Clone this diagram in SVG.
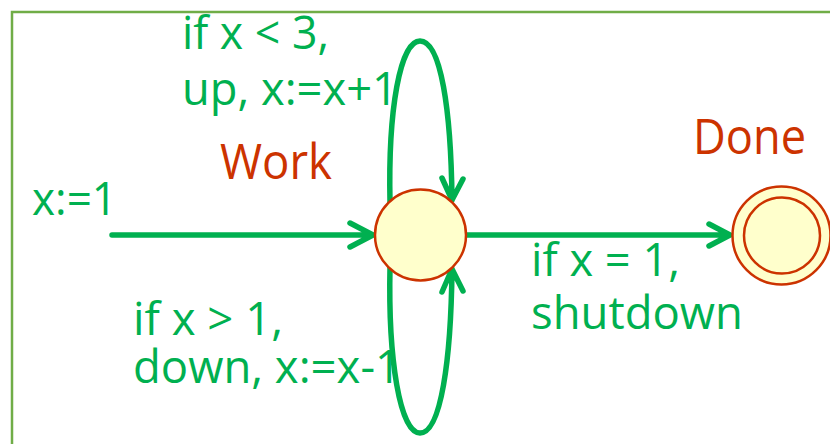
<svg xmlns="http://www.w3.org/2000/svg" width="830" height="444" viewBox="0 0 830 444">
<style>
.lbl{font-family:"Open Sans","Noto Sans",sans-serif;font-size:46px;fill:#00B050}
.nm{font-family:"Open Sans","Noto Sans",sans-serif;font-size:49px;fill:#CC3300}
.edge{fill:none;stroke:#00B050;stroke-width:5.5;stroke-linecap:round;stroke-linejoin:round}
.st{fill:#FFFFCC;stroke:#CC3300;stroke-width:2.5}
</style>
<rect x="12" y="12" width="840" height="460" fill="#FFFFFF" stroke="#70AD47" stroke-width="2.5"/>
<g id="labels">
<text class="lbl" x="182" y="49" textLength="147" lengthAdjust="spacingAndGlyphs">if x &lt; 3,</text>
<text class="lbl" x="182" y="105" textLength="216" lengthAdjust="spacingAndGlyphs">up, x:=x+1</text>
<text class="lbl" x="32" y="215" textLength="85" lengthAdjust="spacingAndGlyphs">x:=1</text>
<text class="lbl" x="531" y="276" textLength="149" lengthAdjust="spacingAndGlyphs">if x = 1,</text>
<text class="lbl" x="531" y="329" textLength="212" lengthAdjust="spacingAndGlyphs">shutdown</text>
<text class="lbl" x="133" y="335" textLength="150" lengthAdjust="spacingAndGlyphs">if x &gt; 1,</text>
<text class="lbl" x="133" y="383" textLength="268" lengthAdjust="spacingAndGlyphs">down, x:=x-1</text>
</g>
<g id="connectors">
<path class="edge" d="M112,235 L373,235 M350,223 L373,235 L350,247"/>
<path class="edge" d="M466,235 L730,235 M709,224 L730,235 L709,246"/>
<path class="edge" d="M390,202 C388,110 400,41 420,41 C441,41 451,110 452,200 M442,178 L452,200 L463,179"/>
<path class="edge" d="M390,267 C388,360 400,433 420,433 C441,433 451,360 452,269 M442,292 L452,269 L463,291"/>
</g>
<g id="work">
<circle class="st" cx="420.5" cy="235" r="45.5"/>
<text class="nm" x="220" y="179" textLength="112" lengthAdjust="spacingAndGlyphs">Work</text>
</g>
<g id="done">
<circle class="st" cx="781.5" cy="235.5" r="49"/>
<circle class="st" cx="782" cy="235.5" r="38"/>
<text class="nm" x="693" y="154" textLength="113" lengthAdjust="spacingAndGlyphs">Done</text>
</g>
</svg>
